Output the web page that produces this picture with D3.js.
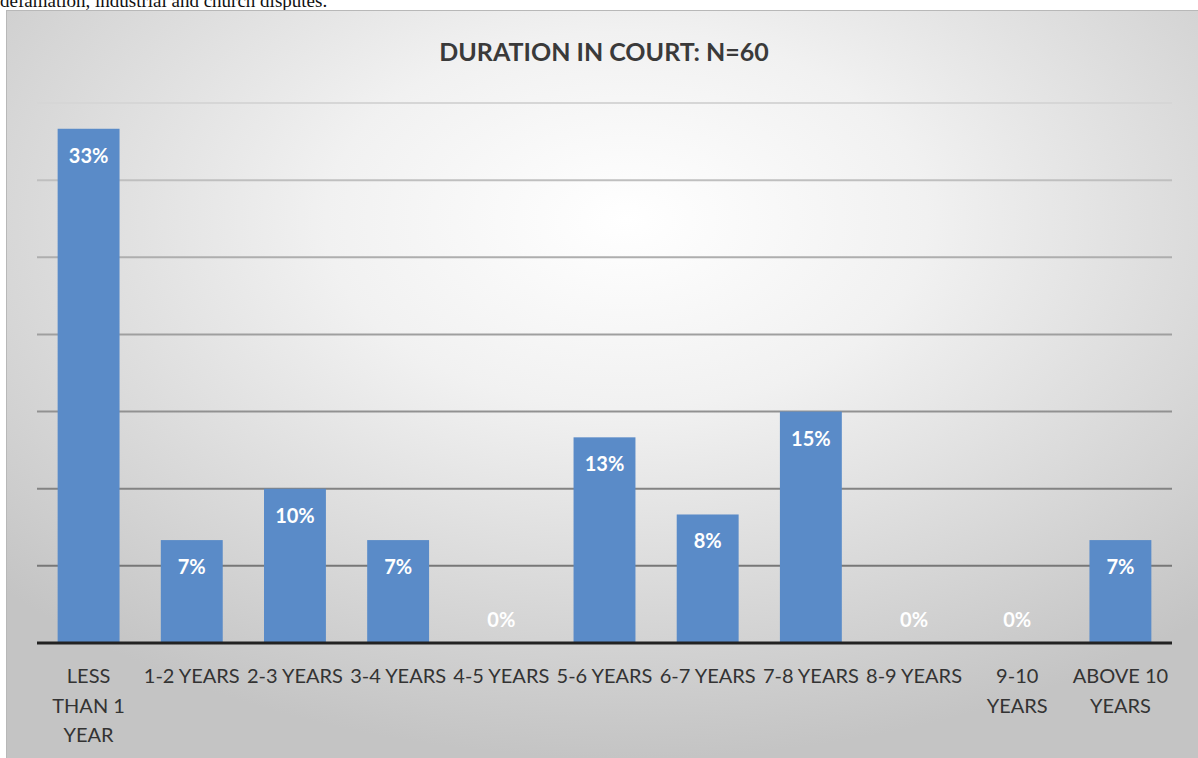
<!DOCTYPE html>
<html lang="en">
<head>
    <meta charset="UTF-8">
    <title>Duration in court</title>
    <script src="https://cdn.jsdelivr.net/npm/d3@7"></script>
    <style>
        body { margin: 0; background: #fff; }
        svg { display: block; }
    </style>
</head>
<body>
<div id="myDiv"></div>

<script>

    // chart data (percent of N=60 cases)
    const categories = ["LESS\nTHAN 1\nYEAR", "1-2 YEARS", "2-3 YEARS", "3-4 YEARS", "4-5 YEARS",
        "5-6 YEARS", "6-7 YEARS", "7-8 YEARS", "8-9 YEARS", "9-10\nYEARS", "ABOVE 10\nYEARS"];
    const percents = [33.33, 6.67, 10, 6.67, 0, 13.33, 8.33, 15, 0, 0, 6.67];
    const labels = ["33%", "7%", "10%", "7%", "0%", "13%", "8%", "15%", "0%", "0%", "7%"];
    const gridTicks = [0, 5, 10, 15, 20, 25, 30, 35];

    const width = 1198, height = 758;
    const frame = {x: 6, y: 10, w: 1192, h: 748};
    const plot = {left: 37, right: 1172, top: 103, bottom: 643};

    const svg = d3.select("#myDiv").append("svg")
        .attr("width", width)
        .attr("height", height);

    // background gradient
    const defs = svg.append("defs");
    const grad = defs.append("radialGradient")
        .attr("id", "bg")
        .attr("cx", "0.52").attr("cy", "0.28").attr("r", "0.72");
    grad.append("stop").attr("offset", "0").attr("stop-color", "#ffffff");
    grad.append("stop").attr("offset", "0.35").attr("stop-color", "#f1f1f1");
    grad.append("stop").attr("offset", "1").attr("stop-color", "#c4c4c4");

    // sentence from the page above, cut by the crop like in the source
    svg.append("text")
        .attr("x", 0)
        .attr("y", 7)
        .style("font-family", "'Liberation Serif', 'Times New Roman', serif")
        .style("font-size", "19px")
        .attr("fill", "#111")
        .text("defamation, industrial and church disputes.");

    svg.append("rect")
        .attr("x", frame.x + 0.5).attr("y", frame.y + 0.5)
        .attr("width", frame.w).attr("height", frame.h)
        .attr("fill", "url(#bg)")
        .attr("stroke", "#b8b8b8");

    const x = d3.scaleBand()
        .domain(d3.range(categories.length))
        .range([plot.left, plot.right])
        .paddingInner(0.4)
        .paddingOuter(0.2);

    const y = d3.scaleLinear()
        .domain([0, 35])
        .range([plot.bottom, plot.top]);

    const gridColor = d3.interpolateRgb("#d6d6d6", "#6a6a6a");

    // gridlines
    svg.append("g")
        .selectAll("line")
        .data(gridTicks.filter(function(d) { return d > 0; }))
        .enter()
        .append("line")
        .attr("x1", plot.left)
        .attr("x2", plot.right)
        .attr("y1", function(d) { return y(d); })
        .attr("y2", function(d) { return y(d); })
        .attr("stroke", function(d) { return gridColor(Math.pow(1 - d / 35, 0.8)); })
        .attr("stroke-width", 2);

    // bars
    svg.append("g")
        .selectAll("rect")
        .data(percents)
        .enter()
        .append("rect")
        .attr("x", function(d, i) { return x(i); })
        .attr("y", function(d) { return y(d); })
        .attr("width", x.bandwidth())
        .attr("height", function(d) { return y(0) - y(d); })
        .attr("fill", "#5a8bc8");

    // baseline
    svg.append("line")
        .attr("x1", plot.left).attr("x2", plot.right)
        .attr("y1", y(0)).attr("y2", y(0))
        .attr("stroke", "#222")
        .attr("stroke-width", 3);

    // value labels
    svg.append("g")
        .selectAll("text")
        .data(percents)
        .enter()
        .append("text")
        .attr("x", function(d, i) { return x(i) + x.bandwidth() / 2; })
        .attr("y", function(d) { return d > 0 ? y(d) + 34 : y(0) - 16; })
        .attr("text-anchor", "middle")
        .style("font-family", "Lato, 'Open Sans', sans-serif")
        .style("font-weight", "bold")
        .style("font-size", "20px")
        .attr("fill", "#fff")
        .text(function(d, i) { return labels[i]; });

    // category labels
    const cat = svg.append("g")
        .selectAll("text")
        .data(categories)
        .enter()
        .append("text")
        .attr("text-anchor", "middle")
        .style("font-family", "Lato, 'Open Sans', sans-serif")
        .style("font-size", "20px")
        .attr("fill", "#333");

    cat.selectAll("tspan")
        .data(function(d, i) {
            return d.split("\n").map(function(s) { return {s: s, i: i}; });
        })
        .enter()
        .append("tspan")
        .attr("x", function(d) { return x(d.i) + x.bandwidth() / 2; })
        .attr("y", function(d, j) { return 683 + j * 29.5; })
        .text(function(d) { return d.s; });

    // title
    svg.append("text")
        .attr("x", 604)
        .attr("y", 61)
        .attr("text-anchor", "middle")
        .style("font-family", "Lato, 'Open Sans', sans-serif")
        .style("font-weight", "bold")
        .style("font-size", "25px")
        .attr("fill", "#3a3a3a")
        .text("DURATION IN COURT: N=60");

</script>

</body>
</html>
